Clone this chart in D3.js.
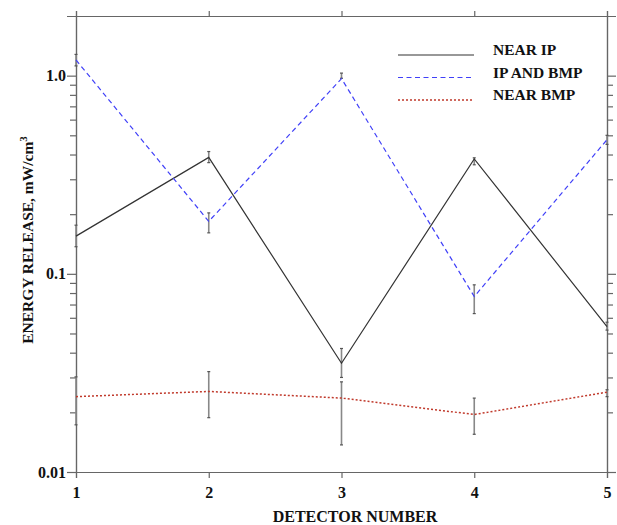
<!DOCTYPE html>
<html lang="en">
<head>
  <meta charset="UTF-8">
  <title>Energy release</title>
  <script src="https://d3js.org/d3.v7.min.js"></script>
  <style>
    body { margin: 0; background: #fff; }
    svg text { font-family: "Liberation Serif", "Times New Roman", serif; font-weight: bold; fill: #111; }
  </style>
</head>
<body>
  <div id="chart"></div>
  <script>
    const detectors = [1, 2, 3, 4, 5];
    const seriesNames = ["NEAR IP", "IP AND BMP", "NEAR BMP"];
    const nearIp = [0.155, 0.387, 0.0354, 0.38, 0.0542];
    const ipAndBmp = [1.2, 0.184, 0.966, 0.0768, 0.475];
    const nearBmp = [0.024, 0.0255, 0.0236, 0.0195, 0.0253];
    // error bars: [low, high] per detector
    const nearIpErr = [[0.137, 0.176], [0.364, 0.414], [0.030, 0.042], [0.355, 0.385], [0.052, 0.057]];
    const ipAndBmpErr = [[1.12, 1.28], [0.161, 0.203], [0.97, 1.03], [0.063, 0.088], [0.45, 0.5]];
    const nearBmpErr = [[0.0173, 0.0302], [0.0188, 0.0321], [0.0137, 0.0285], [0.0155, 0.0236], [0.024, 0.026]];
    const majorTicks = [0.01, 0.1, 1.0];
    const majorLabels = ["0.01", "0.1", "1.0"];

    const width = 617, height = 525;
    const margin = {top: 16, right: 10, bottom: 53, left: 76};

    const svg = d3.select("#chart").append("svg")
        .attr("width", width)
        .attr("height", height);

    const x = d3.scaleLinear().domain([1, 5]).range([margin.left, width - margin.right]);
    const y = d3.scaleLog().domain([0.01, 2.0]).range([height - margin.bottom, margin.top]);

    const minorTicks = [];
    [0.01, 0.1].forEach(d => { for (let i = 2; i <= 9; i++) minorTicks.push(d * i); });

    const axisColor = "#666";
    function styleAxis(g) {
      g.selectAll("path, line").attr("stroke", axisColor).attr("stroke-width", 1.2);
      g.selectAll("text").style("font-size", "16px").attr("fill", "#111");
    }

    // left axis
    svg.append("g").attr("transform", `translate(${margin.left},0)`)
        .call(d3.axisLeft(y).tickValues(majorTicks).tickSize(9).tickPadding(1)
          .tickFormat((d, i) => majorLabels[i]))
        .call(styleAxis);
    svg.append("g").attr("transform", `translate(${margin.left},0)`)
        .call(d3.axisLeft(y).tickValues(minorTicks).tickSize(6).tickFormat(""))
        .call(styleAxis);

    // right axis
    const xr = width - margin.right;
    svg.append("g").attr("transform", `translate(${xr},0)`)
        .call(d3.axisRight(y).tickValues(majorTicks).tickSize(9).tickFormat(""))
        .call(styleAxis);
    svg.append("g").attr("transform", `translate(${xr},0)`)
        .call(d3.axisRight(y).tickValues(minorTicks).tickSize(6).tickFormat(""))
        .call(styleAxis);

    // bottom and top axes
    svg.append("g").attr("transform", `translate(0,${height - margin.bottom})`)
        .call(d3.axisBottom(x).tickValues(detectors).tickSize(6).tickPadding(9).tickFormat(d3.format("d")))
        .call(styleAxis);
    svg.append("g").attr("transform", `translate(0,${margin.top})`)
        .call(d3.axisTop(x).tickValues(detectors).tickSize(5).tickFormat(""))
        .call(styleAxis);

    // axis titles
    svg.append("text")
        .attr("x", 355)
        .attr("y", 522)
        .attr("text-anchor", "middle")
        .style("font-size", "16px")
        .text("DETECTOR NUMBER");

    const yTitle = svg.append("text")
        .attr("transform", "translate(33,240) rotate(-90)")
        .attr("text-anchor", "middle")
        .style("font-size", "15.5px");
    yTitle.append("tspan").text("ENERGY RELEASE, mW/cm");
    yTitle.append("tspan").attr("dy", -6).style("font-size", "11px").text("3");

    const series = [
      {name: seriesNames[0], values: nearIp, err: nearIpErr, color: "#333", dash: null, w: 1.2},
      {name: seriesNames[1], values: ipAndBmp, err: ipAndBmpErr, color: "#4040f8", dash: "5,3.5", w: 1.2},
      {name: seriesNames[2], values: nearBmp, err: nearBmpErr, color: "#c0392b", dash: "2,2", w: 1.5}
    ];

    // error bars
    series.forEach(s => {
      const g = svg.append("g");
      s.err.forEach((e, i) => {
        const cx = x(detectors[i]);
        g.append("line").attr("x1", cx).attr("x2", cx).attr("y1", y(e[0])).attr("y2", y(e[1]))
            .attr("stroke", "#888").attr("stroke-width", 1.6);
        e.forEach(v => {
          g.append("line").attr("x1", cx - 1.5).attr("x2", cx + 1.5).attr("y1", y(v)).attr("y2", y(v))
              .attr("stroke", "#555").attr("stroke-width", 1.2);
        });
      });
    });

    const line = d3.line().x((d, i) => x(detectors[i])).y(d => y(d));

    series.forEach(s => {
      svg.append("path")
          .datum(s.values)
          .attr("d", line)
          .attr("fill", "none")
          .attr("stroke", s.color)
          .attr("stroke-width", s.w)
          .attr("stroke-dasharray", s.dash);
    });

    // legend
    const legend = svg.append("g");
    series.forEach((s, i) => {
      const ly = 55 + i * 22.5;
      legend.append("line")
          .attr("x1", 398).attr("x2", 474).attr("y1", ly).attr("y2", ly)
          .attr("stroke", s.color).attr("stroke-width", s.w)
          .attr("stroke-dasharray", s.dash);
      legend.append("text")
          .attr("x", 493).attr("y", ly)
          .style("font-size", "15.5px")
          .text(s.name);
    });
  </script>
</body>
</html>
